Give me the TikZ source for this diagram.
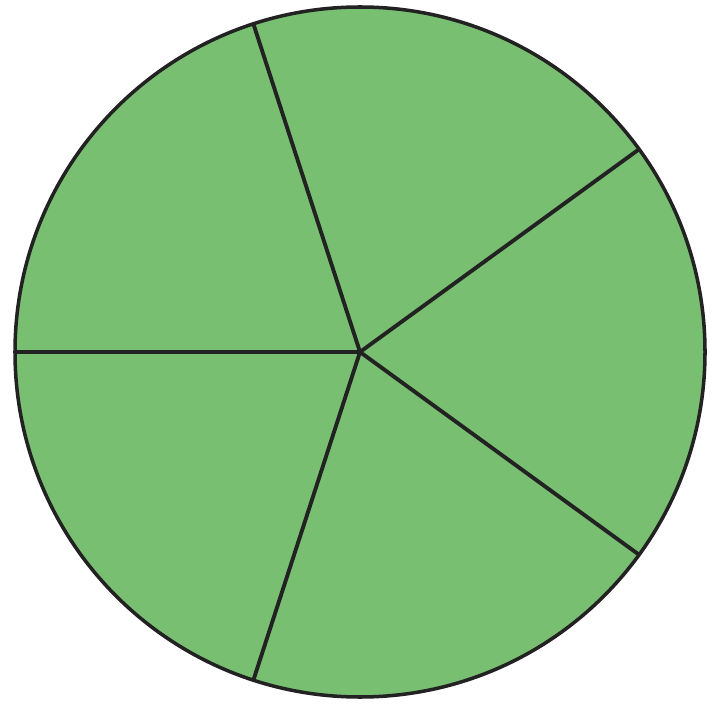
\documentclass[tikz,border=0pt]{standalone}
\usetikzlibrary{positioning}

\definecolor{piegreen}{HTML}{79BF72}
\definecolor{pieline}{HTML}{222222}

\tikzset{
  piefill/.style={fill=piegreen,draw=pieline,line width=1pt},
  spoke/.style={draw=pieline,line width=1.1pt}
}

\begin{document}
\begin{tikzpicture}

% Bounding box (719 x 704 px)
\useasboundingbox (0,0) rectangle (7.19,7.04);

% Centre of the disc
\coordinate (centre) at (3.60,3.52);

% Disc
\draw[piefill] (centre) circle (3.45);

% Spokes
\foreach \a in {180,108,36,-36,-108}
  \draw[spoke] (centre) -- ++(\a:3.45);

\end{tikzpicture}
\end{document}
